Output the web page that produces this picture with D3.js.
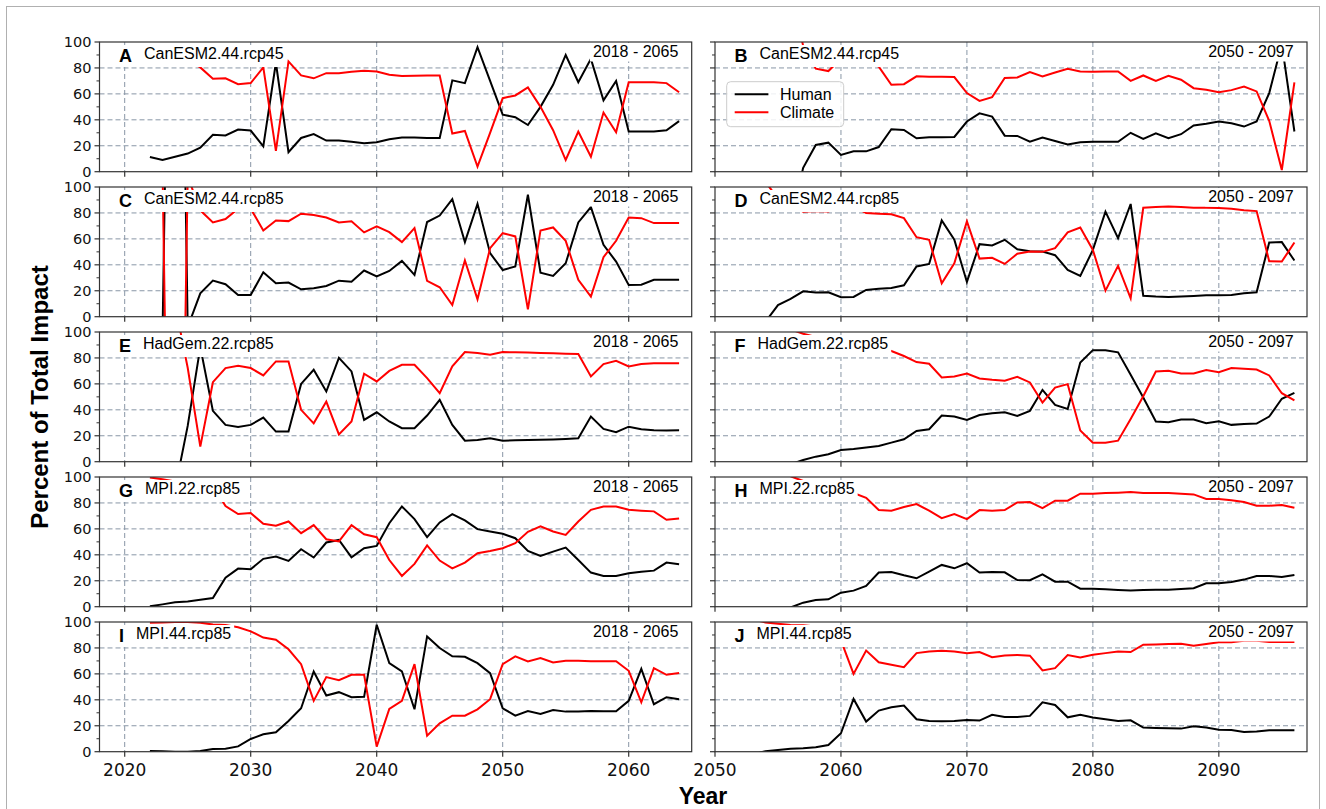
<!DOCTYPE html>
<html><head><meta charset="utf-8">
<script src="https://cdn.jsdelivr.net/npm/d3@7"></script>
<style>body{margin:0;background:#fff}svg{display:block}</style>
</head><body>
<svg id="chart" width="1326" height="809"></svg>
<script>
// ---------------- data ----------------
const panelLetters = ["A","B","C","D","E","F","G","H","I","J"];
const modelNames = ["CanESM2.44.rcp45","CanESM2.44.rcp45","CanESM2.44.rcp85","CanESM2.44.rcp85",
  "HadGem.22.rcp85","HadGem.22.rcp85","MPI.22.rcp85","MPI.22.rcp85","MPI.44.rcp85","MPI.44.rcp85"];
const periodLabels = ["2018 - 2065","2050 - 2097"];
const xDomainLeft = [2018, 2065];
const xDomainRight = [2050, 2097];
const xTicksLeft = [2020, 2030, 2040, 2050, 2060];
const xTicksRight = [2050, 2060, 2070, 2080, 2090];
const yTicks = [0, 20, 40, 60, 80, 100];
const yMinorTicks = [10, 30, 50, 70, 90];
const seriesNames = ["Human", "Climate"];

const startYears = [2022, 2056, 2022, 2054, 2024, 2056, 2022, 2056, 2022, 2053];

const humanA = [11.3,9,11.5,14,18.5,28.4,28,32.5,31.7,19.6,84,15,26,29,24,24,23,22,22.7,25,26.3,26.3,26,26,70.4,68.3,96,70,44,42,36,50,67,90,69,87,55,70,31,31,31,32,39];
const climateA = [88.7,91,88.5,86,80.4,71.6,72,67.5,68.3,80.4,16,85,74.2,72,76,76,77,77.8,77.3,74.7,73.7,74,74.2,74.2,29.4,31.4,4,30,56.7,58.8,65,50,32,9,31,11.6,45.6,30.4,69,69,69,68.3,61.3];

const humanB = [-40,3,20.6,22.4,12.9,15.7,15.7,19,32.7,32.2,25.8,26.5,26.5,26.8,38.7,45,42.5,27.8,27.6,23.2,26.3,23.7,21,22.7,23,23,23,30,25.3,29.6,25.8,28.9,35.6,37,38.7,37.4,34.8,38.7,60.6,98.5,31];
const climateB = [140,97,79.4,77.6,87.1,84.3,84.3,81,67,67.5,73.5,73.2,73.2,73,60.6,54.6,57.5,72.2,72.7,76.8,73.5,76.5,79.4,77.3,77,77.3,77.3,70,74.2,70,74,70.9,64.4,63.1,61.3,62.9,65.7,61.9,39.2,1.3,68.8];

const humanC = [-20,-15,600,-8,18,27.8,25,16.7,16.7,34.3,25.8,26.3,21.1,21.9,23.7,27.8,27,35.6,31,35.3,43,32.2,73,78,90.7,57.5,87,49,36,38.7,94,34,31.4,41.2,72.7,84.5,55.4,42.5,24.5,24.7,28.4,28.4,28.4];
const climateC = [120,115,-500,108,82,72.7,75.3,83.3,83.3,66.5,74.2,73.7,79.4,78.4,76.5,72.7,73.5,65,69.6,65.2,57.5,68.3,27.6,22.7,9,43.3,13.4,52.8,64.4,61.9,5.7,66.5,68.8,58.5,28.4,15.5,45.9,58.5,76.5,76,72.2,72.2,72.2];

const humanD = [-4,9,13.7,19.6,18.6,18.8,15,15.2,20.6,21.6,22.2,24.2,38.7,40.7,74.2,59.3,26.8,55.9,54.9,59.3,52,50.5,50.3,47.4,36,31.4,51.5,81,60.6,86.9,16.2,15.5,15.2,15.5,16,16.5,16.5,16.8,18,18.8,57.2,57.5,43.3];
const climateD = [104,91,86.3,81,81.4,81.2,85,84.8,80,79.4,78.9,76,61.3,59.3,25.8,41.2,73.5,44.8,45.4,40.7,48.5,50.3,50,52.8,65,68.8,51.5,20.1,39.2,14.2,84,84.5,85,84.5,84,84,83.8,83.2,82,81.4,42.8,42.5,57.2];

const humanE = [-21,27.6,88.4,39.2,28.4,26.8,28.4,34,23.2,23.2,60,70.9,54.1,80,69.6,32.2,38.1,31,25.8,25.8,35.6,47.7,28.4,16.2,16.8,18,16.2,16.5,16.8,17,17.2,17.5,18,34.8,25.3,22.7,27,25,24.2,24,24.2];
const climateE = [121,72.4,11.6,61.3,72.2,74,72.2,66.5,77.3,77.3,40,29.6,46.4,21.1,31,67.8,61.9,70,74.7,74.7,64.4,52.8,73.5,84.5,83.8,82.5,84.5,84.3,84.1,83.9,83.6,83.3,83,65.7,75.3,77.8,73.5,75.3,76,76,76];

const humanF = [-2,1.3,3.9,5.7,9,9.8,11,12.1,14.7,17.3,23.7,25,35.6,34.8,32.2,36,37.4,38.1,35.3,39.2,55.4,43.8,40.7,76.5,86,86,84.3,67,49.5,31,30.4,32.5,32.5,29.6,31.2,28.4,29.1,29.4,34.8,48.5,53];
const climateF = [102,98.7,96.1,94.3,91,90.2,89,87.9,85.3,81.5,76.8,75.5,65,65.7,68,64.2,63.1,62.4,65.5,61.1,45.6,57.2,59.8,24,14.7,14.7,16.2,33,50.5,69.6,70.1,68,68,70.6,69,72.2,71.6,71.1,66.5,52.8,47.2];

const humanG = [0.3,1.8,3.4,4.1,5.4,6.7,22.4,29.4,28.9,36.9,38.7,35.3,44.3,37.9,49.5,51.5,38.1,45.1,46.9,64.4,77.3,67.5,53.6,65,71.4,66.5,59.8,58,56.2,52.8,43,39.2,42.5,45.6,36,26.3,23.7,23.7,25.8,27,27.8,34,32.7];
const climateG = [99.7,98.2,96.6,95.9,94.6,93.3,77.6,71.4,72.2,63.9,62.4,65.7,56.7,62.9,52,50.3,62.9,55.9,53.6,36,23.7,33,47.2,35.6,29.6,34,41.2,43,45.1,49,57.7,61.9,58,55.4,65.7,74.7,77.3,77.3,74.7,74,73.5,67,68];

const humanH = [-0.6,3.1,5.2,5.7,10.8,12.4,16,26.3,26.8,24.2,21.9,27,32.2,29.6,33.5,26.3,26.8,26.5,20.6,20.4,25,19.3,19.3,13.9,13.9,13.4,12.9,12.4,12.9,13.1,13.1,13.7,14.2,18,18,19,20.9,23.7,23.7,22.9,24.5];
const climateH = [100.6,96.9,94.8,94.3,89.2,87.6,84,74.5,74,76.8,79.1,74,68.3,71.4,67.5,74.5,74,74.5,80.4,80.7,76,81.7,81.7,87.1,87.1,87.6,87.9,88.4,87.6,87.6,87.6,87.1,86.6,83,83,82,80.7,77.8,77.8,78.4,76.3];

const humanI = [0.5,0.3,0,0,0.5,2,2.3,4.1,9.8,13.4,15,23.7,33.5,61.9,43.3,45.9,42,42.3,97.9,68.3,61.9,32.7,88.9,79.9,73.5,73.2,68.3,60.6,33.5,27.8,31.4,29.1,32.2,30.9,30.9,31.4,31.2,31.2,39.2,63.9,36.6,42,40.5];
const climateI = [99.5,99.7,100,100,99.5,98,97.7,95.9,92.8,88,86.3,79,67.5,39.2,57.5,55.2,59.3,59.3,3.9,33,39.2,67.5,12.4,21.9,27.8,27.8,32.7,40.5,67.5,73.5,69.6,72.2,68.8,70.1,70.1,69.8,69.8,69.8,62.4,38.1,64.4,59.3,60.6];

const humanJ = [-2,0.3,1.3,2.3,2.6,3.4,5.2,14.2,40.7,23.2,31.7,34.3,35.6,25,23.7,23.5,23.7,24.5,24,28.4,26.8,26.8,27.6,38.1,36,26.5,28.4,26.3,25,23.7,24.2,18.6,18.3,18,17.8,19.6,18.6,17,16.8,15.2,15.5,16.5,16.5,16.5];
const climateJ = [102,99.7,98.7,97.7,97.4,96.6,94.8,85.8,60,78,69,67,65.2,76,77.3,77.8,77.3,76,76.8,72.9,74.2,74.5,74,62.6,64.4,74.5,72.7,74.7,76,77.3,76.8,82.5,82.7,83,83.2,81.7,83,84.3,84.3,85.6,85.6,84.5,84.5,84.5];

const humanSeries = [humanA, humanB, humanC, humanD, humanE, humanF, humanG, humanH, humanI, humanJ];
const climateSeries = [climateA, climateB, climateC, climateD, climateE, climateF, climateG, climateH, climateI, climateJ];

// ---------------- layout ----------------
const colRanges = [[99.5, 691.7], [715, 1307]];
const rowTops = [42, 187, 332, 477, 622];
const panelH = 129.7;
const colors = {Human: "#000000", Climate: "#ff0000"};
const gridColor = "#8896a6";
const frameColor = "#333333";
const labelFont = "'Liberation Sans', Arial, Helvetica, sans-serif";
const tickFont = "'DejaVu Sans', sans-serif";

const svg = d3.select("#chart");
svg.append("rect").attr("width", 1326).attr("height", 809).attr("fill", "#fff");
svg.append("rect").attr("x", 6.5).attr("y", 6.5).attr("width", 1313).attr("height", 820)
  .attr("fill", "none").attr("stroke", "#b0b0b0").attr("stroke-width", 1);

const defs = svg.append("defs");

panelLetters.forEach((letter, i) => {
  const row = Math.floor(i / 2), col = i % 2;
  const top = rowTops[row];
  const [x0, x1] = colRanges[col];
  const x = d3.scaleLinear().domain(col === 0 ? xDomainLeft : xDomainRight).range([x0, x1]);
  const y = d3.scaleLinear().domain([0, 100]).range([top + panelH, top]);
  const xTicks = col === 0 ? xTicksLeft : xTicksRight;
  const g = svg.append("g");

  // grid
  g.selectAll(".hg").data(yTicks.filter(t => t > 0 && t < 100)).join("line")
    .attr("x1", x0).attr("x2", x1).attr("y1", d => y(d)).attr("y2", d => y(d))
    .attr("stroke", gridColor).attr("stroke-width", 1).attr("stroke-dasharray", "5,3");
  g.selectAll(".vg").data(xTicks.filter(t => x(t) > x0 + 1 && x(t) < x1 - 1)).join("line")
    .attr("x1", d => x(d)).attr("x2", d => x(d)).attr("y1", top).attr("y2", top + panelH)
    .attr("stroke", gridColor).attr("stroke-width", 1).attr("stroke-dasharray", "5,3");

  // clip
  const cid = "clip" + letter;
  defs.append("clipPath").attr("id", cid).append("rect")
    .attr("x", x0).attr("y", top).attr("width", x1 - x0).attr("height", panelH);
  const lg = g.append("g").attr("clip-path", `url(#${cid})`);
  const line = d3.line().x(d => x(d.year)).y(d => y(d.v));
  [["Human", humanSeries[i]], ["Climate", climateSeries[i]]].forEach(([name, vals]) => {
    const data = vals.map((v, k) => ({year: startYears[i] + k, v}));
    lg.append("path").datum(data).attr("d", line).attr("fill", "none")
      .attr("stroke", colors[name]).attr("stroke-width", 2).attr("stroke-linejoin", "miter");
  });

  // panel label with white box
  const boxL = g.append("rect").attr("fill", "#fff");
  const tL = g.append("text").attr("x", x0 + 19.5).attr("y", top + 20)
    .attr("font-family", labelFont).attr("font-weight", "bold").attr("font-size", 18).text(letter);
  const lw = tL.node().getComputedTextLength();
  const tN = g.append("text").attr("x", x0 + 19.5 + lw + 12).attr("y", top + 17)
    .attr("font-family", labelFont).attr("font-size", 16).text(modelNames[i]);
  const nEnd = x0 + 19.5 + lw + 12 + tN.node().getComputedTextLength();
  boxL.attr("x", x0 + 15).attr("y", top + 3).attr("width", nEnd + 3 - (x0 + 15)).attr("height", 22);

  // period label with white box
  const boxP = g.append("rect").attr("fill", "#fff");
  const tP = g.append("text").attr("x", x1 - 13.4).attr("y", top + 14.5).attr("text-anchor", "end")
    .attr("font-family", labelFont).attr("font-size", 16).text(periodLabels[col]);
  const pw = tP.node().getComputedTextLength();
  boxP.attr("x", x1 - 13.4 - pw - 3).attr("y", top + 1).attr("width", pw + 6).attr("height", 18.5);

  // frame
  g.append("rect").attr("x", x0).attr("y", top).attr("width", x1 - x0).attr("height", panelH)
    .attr("fill", "none").attr("stroke", frameColor).attr("stroke-width", 1.2);

  // y ticks
  g.selectAll(".yt").data(yTicks).join("line")
    .attr("x1", x0 - 5).attr("x2", x0).attr("y1", d => y(d)).attr("y2", d => y(d))
    .attr("stroke", frameColor).attr("stroke-width", 1.2);
  g.selectAll(".ymt").data(yMinorTicks).join("line")
    .attr("x1", x0 - 3).attr("x2", x0).attr("y1", d => y(d)).attr("y2", d => y(d))
    .attr("stroke", frameColor).attr("stroke-width", 1);
  if (col === 0) {
    g.selectAll(".yl").data(yTicks).join("text")
      .attr("x", x0 - 8).attr("y", d => y(d)).attr("dy", "0.36em").attr("text-anchor", "end")
      .attr("font-family", tickFont).attr("font-size", 14.5).attr("fill", "#111").text(d => d);
  }
  // x ticks
  g.selectAll(".xt").data(xTicks).join("line")
    .attr("x1", d => x(d)).attr("x2", d => x(d)).attr("y1", top + panelH).attr("y2", top + panelH + 5)
    .attr("stroke", frameColor).attr("stroke-width", 1.2);
  if (row === 4) {
    g.selectAll(".xl").data(xTicks).join("text")
      .attr("x", d => x(d)).attr("y", top + panelH + 24.5).attr("text-anchor", "middle")
      .attr("font-family", tickFont).attr("font-size", 17).attr("fill", "#111").text(d => d);
  }

  // legend in panel B
  if (letter === "B") {
    const lgd = g.append("g");
    lgd.append("rect").attr("x", 726.7).attr("y", 81.7).attr("width", 117).attr("height", 45)
      .attr("rx", 4).attr("fill", "#fff").attr("fill-opacity", 0.85).attr("stroke", "#cccccc");
    seriesNames.forEach((name, k) => {
      const ly = 94.3 + k * 18;
      lgd.append("line").attr("x1", 734.7).attr("x2", 768.4).attr("y1", ly).attr("y2", ly)
        .attr("stroke", colors[name]).attr("stroke-width", 2);
      lgd.append("text").attr("x", 780).attr("y", ly + 5.6)
        .attr("font-family", labelFont).attr("font-size", 16).text(name);
    });
  }
});

// axis titles
svg.append("text").attr("x", 703).attr("y", 804).attr("text-anchor", "middle")
  .attr("font-family", labelFont).attr("font-weight", "bold").attr("font-size", 23).text("Year");
svg.append("text").attr("transform", "translate(48,397) rotate(-90)").attr("text-anchor", "middle")
  .attr("font-family", labelFont).attr("font-weight", "bold").attr("font-size", 24).text("Percent of Total Impact");
</script>
</body></html>
